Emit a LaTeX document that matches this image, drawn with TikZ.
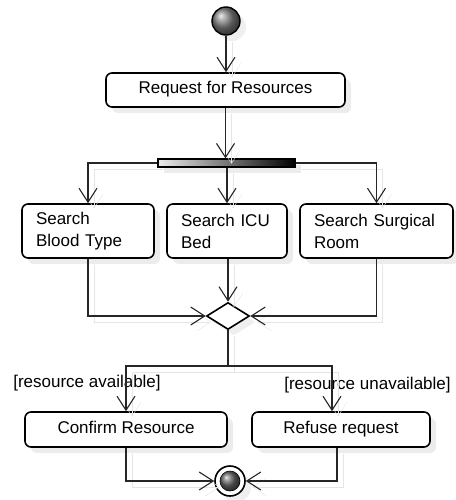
\documentclass[tikz,border=0pt]{standalone}
\usepackage{fontspec}
\setmainfont{Liberation Sans}
\usetikzlibrary{arrows.meta,shapes.geometric,shadows}

\begin{document}
\begin{tikzpicture}[x=1pt, y=-1pt, >={Straight Barb[length=14pt,width=18pt]},
  act/.style={draw, line width=1.6pt, rounded corners=6pt, fill=white,
    drop shadow={shadow xshift=6pt, shadow yshift=-6pt, fill=black!15},
    font=\fontsize{17}{22}\selectfont, inner xsep=14pt, inner ysep=0pt},
  oneline/.style={text height=12pt, text depth=4pt},
  flow/.style={draw=black!85, line width=1.1pt,
    preaction={draw=black!10, transform canvas={shift={(6pt,-6pt)}}}},
  guard/.style={font=\fontsize{17}{22}\selectfont, inner sep=0pt}]

\useasboundingbox (0,0) rectangle (455,500);

% Start node
\node[circle, draw, line width=1.4pt, minimum size=28pt, inner sep=0pt,
  ball color=gray,
  drop shadow={shadow xshift=6pt, shadow yshift=-6pt, fill=black!12}] (start) at (226,21) {};

% Request
\node[act, oneline, minimum width=239pt, minimum height=34pt] (req) at (225.5,90) {Request for Resources};

% Fork bar
\node[draw, line width=1.2pt, minimum width=137pt, minimum height=8pt, inner sep=0pt,
  left color=gray!15, right color=black,
  drop shadow={shadow xshift=6pt, shadow yshift=-6pt, fill=black!15}] (fork) at (226.5,163) {};

% Searches
\node[act, text width=104pt, minimum height=54pt, align=left] (blood) at (88,231) {Search\\Blood Type};
\node[act, text width=92pt, minimum height=54pt, align=left] (icu) at (227,231) {Search ICU\\Bed};
\node[act, text width=125pt, minimum height=54pt, align=left] (surg) at (376.5,231) {Search Surgical\\Room};

% Merge
\node[diamond, draw, line width=1.6pt, minimum width=43pt, minimum height=27pt, inner sep=0pt,
  aspect=1.6, fill=white,
  drop shadow={shadow xshift=6pt, shadow yshift=-6pt, fill=black!12}] (merge) at (228,316) {};

% Outcomes
\node[act, oneline, minimum width=202pt, minimum height=35pt] (conf) at (126,429.5) {Confirm Resource};
\node[act, oneline, minimum width=178pt, minimum height=35pt] (refuse) at (341,429.5) {Refuse request};

% Guards
\node[guard] (avail) at (87,383) {[resource available]};
\node[guard] (unavail) at (367.5,385) {[resource unavailable]};

% Final node
\node[circle, draw, line width=1.6pt, minimum size=30pt, inner sep=0pt, fill=white,
  drop shadow={shadow xshift=6pt, shadow yshift=-6pt, fill=black!12}] (final) at (230,481) {};
\shadedraw[ball color=gray!80!black, line width=0.6pt] (final) circle (10pt);

% Flows
\draw[flow, ->] (start.south) -- (start.south |- req.north);
\draw[flow, ->] (req.south) -- (req.south |- fork.north);
\draw[flow, ->] (fork.west) -| (blood.north);
\draw[flow, ->] (fork.south -| icu.north) -- (icu.north);
\draw[flow, ->] (fork.east) -| (surg.north);

\draw[flow, ->] (blood.south) |- (merge.west);
\draw[flow, ->] (merge.north |- icu.south) -- (merge.north);
\draw[flow, ->] (surg.south) |- (merge.east);

\coordinate (split) at (228,366);
\draw[flow] (merge.south) -- (split);
\draw[flow, ->] (split) -| (conf.north);
\draw[flow, ->] (split) -| ([xshift=-9pt]refuse.north);

\draw[flow, ->] (conf.south) |- (final.west);
\draw[flow, ->] ([xshift=-4pt]refuse.south) |- (final.east);

\end{tikzpicture}
\end{document}
